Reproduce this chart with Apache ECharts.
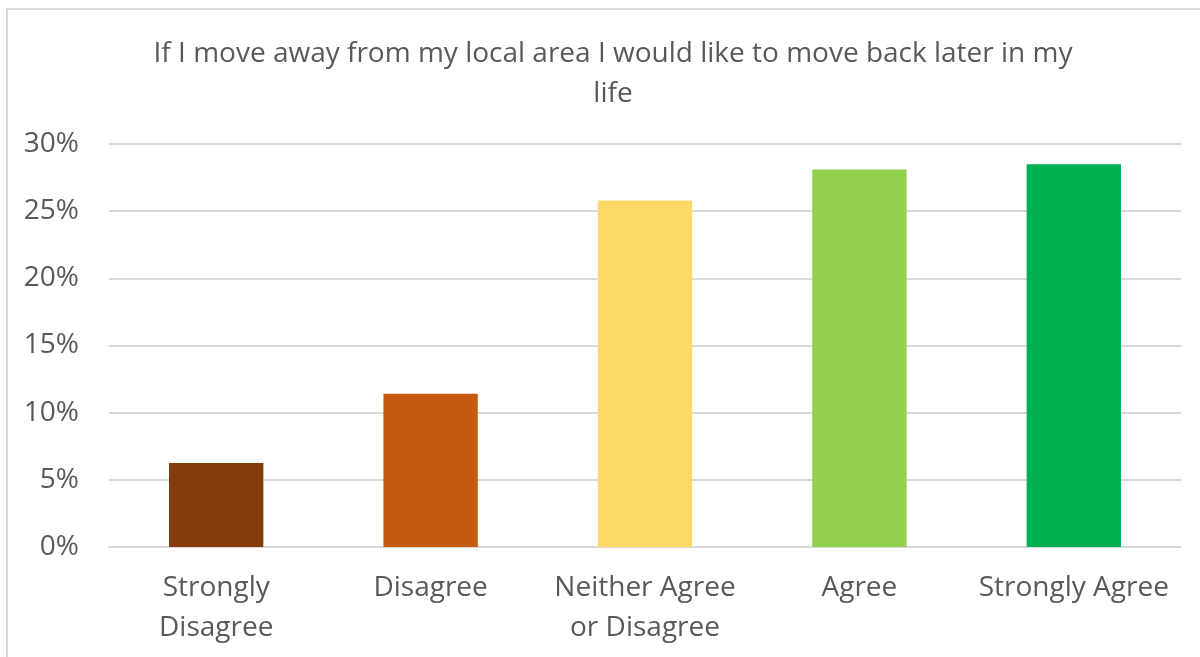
<!DOCTYPE html>
<html>
<head>
<meta charset="UTF-8">
<title>Move back later</title>
<script src="https://cdn.jsdelivr.net/npm/echarts@6/dist/echarts.min.js"></script>
<style>
  html, body { margin: 0; padding: 0; background: #fff; }
  #main { width: 1200px; height: 657px; }
</style>
</head>
<body>
<div id="main"></div>
<script>
// answers and share of respondents (%)
var categories = ['Strongly\nDisagree', 'Disagree', 'Neither Agree\nor Disagree', 'Agree', 'Strongly Agree'];
var values = [6.25, 11.4, 25.8, 28.1, 28.5];
var barColors = ['#843C0C', '#C55A11', '#FFD966', '#92D050', '#00B050'];
var yTicks = [0, 5, 10, 15, 20, 25, 30];

var chart = echarts.init(document.getElementById('main'));
var option = {
  animation: false,
  backgroundColor: '#fff',
  textStyle: { fontFamily: 'Open Sans' },
  graphic: [{
    type: 'rect',
    shape: { x: 7, y: 9, width: 1200, height: 660 },
    style: { fill: 'none', stroke: '#d9d9d9', lineWidth: 2 },
    silent: true
  }],
  title: {
    text: 'If I move away from my local area I would like to move back later in my\nlife',
    left: 608,
    top: 29,
    textAlign: 'center',
    textStyle: { fontSize: 28, fontWeight: 'normal', color: '#595959', lineHeight: 40, fontFamily: 'Open Sans' }
  },
  grid: { left: 109, right: 19, top: 144, bottom: 110 },
  xAxis: {
    type: 'category',
    data: categories,
    axisLine: { lineStyle: { color: '#d9d9d9', width: 2 } },
    axisTick: { show: false },
    axisLabel: { color: '#595959', fontSize: 28, lineHeight: 40, margin: 21, interval: 0 }
  },
  yAxis: {
    type: 'value',
    min: yTicks[0],
    max: yTicks[yTicks.length - 1],
    interval: 5,
    axisLine: { show: false },
    axisTick: { show: false },
    splitLine: { lineStyle: { color: '#d9d9d9', width: 2 } },
    axisLabel: { color: '#595959', fontSize: 28, margin: 30, formatter: '{value}%' }
  },
  series: [{
    type: 'bar',
    barWidth: '44%',
    data: values.map(function (v, i) {
      return { value: v, itemStyle: { color: barColors[i] } };
    })
  }]
};
chart.setOption(option);
</script>
</body>
</html>
